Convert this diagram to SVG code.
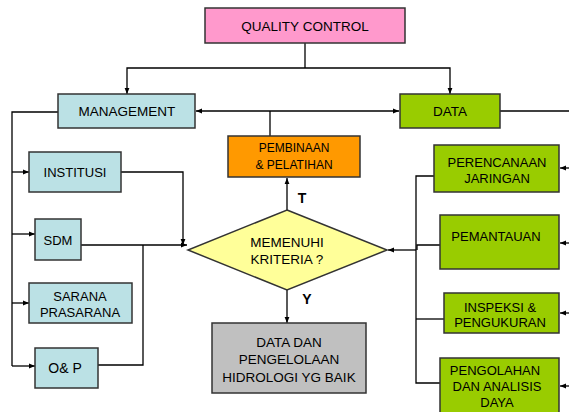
<svg xmlns="http://www.w3.org/2000/svg" width="569" height="412" viewBox="0 0 569 412">
<defs>
<marker id="ah" viewBox="0 0 10 10" refX="10" refY="5" markerWidth="6" markerHeight="6" orient="auto" markerUnits="userSpaceOnUse"><path d="M0,1 L10,5 L0,9 z" fill="#000"/></marker>
</defs>
<style>
.b{stroke:#333;stroke-width:1.5}
.t{font-family:"Liberation Sans",Arial,sans-serif;font-size:13px;fill:#000;text-anchor:middle}
.c{fill:none;stroke:#000;stroke-width:1.3}
.pink{fill:#FF99CC}.blue{fill:#BBE1E5}.green{fill:#99CC00}.orange{fill:#FF9900}.yellow{fill:#FFFF99}.gray{fill:#C0C0C0}
</style>
<rect width="569" height="412" fill="#fff"/>
<g id="connectors">
<polyline class="c" points="305,43 305,68"/>
<polyline class="c" points="305,68 127,68 127,94" marker-end="url(#ah)"/>
<polyline class="c" points="305,68 450,68 450,94" marker-end="url(#ah)"/>
<line class="c" x1="270" y1="111" x2="196" y2="111" marker-end="url(#ah)"/>
<line class="c" x1="270" y1="111" x2="399" y2="111" marker-end="url(#ah)"/>
<line class="c" x1="270" y1="111" x2="270" y2="136"/>
<line class="c" x1="500" y1="111" x2="569" y2="111"/>
<polyline class="c" points="58,112 12,112 12,366"/>
<line class="c" x1="12" y1="172" x2="29" y2="172" marker-end="url(#ah)"/>
<line class="c" x1="12" y1="234" x2="35" y2="234" marker-end="url(#ah)"/>
<line class="c" x1="12" y1="303" x2="29" y2="303" marker-end="url(#ah)"/>
<line class="c" x1="12" y1="366" x2="35" y2="366" marker-end="url(#ah)"/>
<polyline class="c" points="121,172 183,172 183,245" marker-end="url(#ah)"/>
<line class="c" x1="81" y1="245" x2="187" y2="245" marker-end="url(#ah)"/>
<polyline class="c" points="98,365 143,365 143,245"/>
<line class="c" x1="287" y1="210" x2="287" y2="178" marker-end="url(#ah)"/>
<line class="c" x1="287" y1="290" x2="287" y2="323" marker-end="url(#ah)"/>
<polyline class="c" points="434,176 416,176 416,383 440,383"/>
<polyline class="c" points="440,245 417,245 417,250"/>
<line class="c" x1="416" y1="319" x2="444" y2="319"/>
<line class="c" x1="416" y1="250" x2="388" y2="250" stroke-width="2.5" marker-end="url(#ah)"/>
<line class="c" x1="569" y1="168" x2="560" y2="168" marker-end="url(#ah)"/>
<line class="c" x1="569" y1="243" x2="560" y2="243" marker-end="url(#ah)"/>
<line class="c" x1="569" y1="313" x2="560" y2="313" marker-end="url(#ah)"/>
<line class="c" x1="569" y1="386" x2="560" y2="386" marker-end="url(#ah)"/>
<text class="t" x="302" y="203" style="font-weight:bold;font-size:14px">T</text>
<text class="t" x="307" y="304" style="font-weight:bold;font-size:14px">Y</text>
</g>
<g id="qc"><rect class="b pink" x="205" y="8" width="200" height="35"/><text class="t" x="305" y="30.5" style="font-size:13.5px">QUALITY CONTROL</text></g>
<g id="management"><rect class="b blue" x="58" y="94" width="137" height="34"/><text class="t" x="127" y="116" style="font-size:13.5px">MANAGEMENT</text></g>
<g id="data"><rect class="b green" x="400" y="94" width="100" height="34"/><text class="t" x="450" y="116" style="font-size:13.5px">DATA</text></g>
<g id="institusi"><rect class="b blue" x="29" y="152" width="92" height="40"/><text class="t" x="75" y="177">INSTITUSI</text></g>
<g id="sdm"><rect class="b blue" x="35" y="219" width="46" height="41"/><text class="t" x="58" y="245">SDM</text></g>
<g id="sarana"><rect class="b blue" x="29" y="283" width="103" height="40"/><text class="t" x="80" y="301">SARANA</text><text class="t" x="80" y="317">PRASARANA</text></g>
<g id="op"><rect class="b blue" x="35" y="348" width="63" height="40"/><text class="t" x="65" y="373" style="font-size:14px">O&amp; P</text></g>
<g id="pembinaan"><rect class="b orange" x="228" y="136" width="132" height="41"/><text class="t" x="294" y="152" style="font-size:12px">PEMBINAAN</text><text class="t" x="294" y="169" style="font-size:12px">&amp; PELATIHAN</text></g>
<g id="kriteria"><polygon class="b yellow" points="287,210 387,250 287,290 188,250"/><text class="t" x="287" y="247" style="font-size:13.5px">MEMENUHI</text><text class="t" x="287" y="264" style="font-size:13.5px">KRITERIA ?</text></g>
<g id="hasil"><rect class="b gray" x="212" y="323" width="154" height="70"/><text class="t" x="289" y="347" style="font-size:13.5px">DATA DAN</text><text class="t" x="289" y="364" style="font-size:13.5px">PENGELOLAAN</text><text class="t" x="289" y="382" style="font-size:13.5px">HIDROLOGI YG BAIK</text></g>
<g id="perencanaan"><rect class="b green" x="434" y="145" width="125" height="47"/><text class="t" x="497" y="167">PERENCANAAN</text><text class="t" x="497" y="183">JARINGAN</text></g>
<g id="pemantauan"><rect class="b green" x="440" y="215" width="119" height="54"/><text class="t" x="496" y="241">PEMANTAUAN</text></g>
<g id="inspeksi"><rect class="b green" x="444" y="293" width="115" height="40"/><text class="t" x="500" y="312">INSPEKSI &amp;</text><text class="t" x="500" y="327">PENGUKURAN</text></g>
<g id="pengolahan"><rect class="b green" x="440" y="358" width="119" height="60"/><text class="t" x="495" y="375">PENGOLAHAN</text><text class="t" x="497" y="391">DAN ANALISIS</text><text class="t" x="497" y="407">DAYA</text></g>
</svg>
